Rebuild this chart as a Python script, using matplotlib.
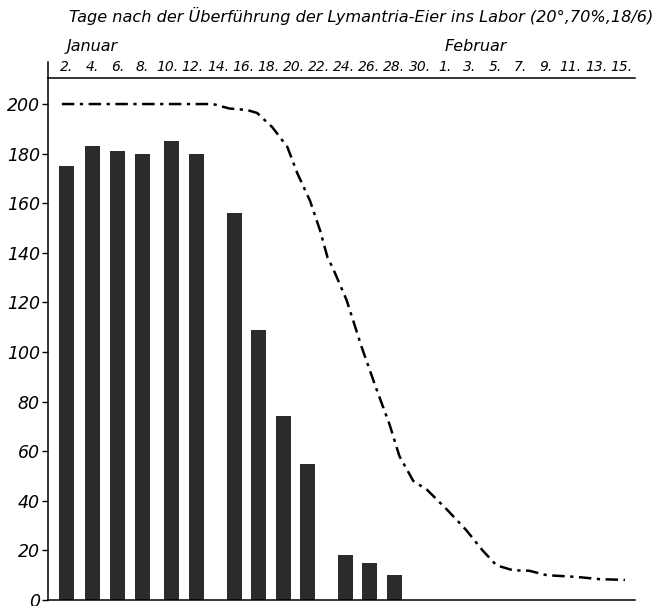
import matplotlib.pyplot as plt
from matplotlib.lines import Line2D

# x positions in days after Jan 0 (Feb 1 = day 32)
bar_days = [2, 4, 6, 8, 10.3, 12.3, 15.3, 17.2, 19.2, 21.1, 24.1, 26.0, 28.0]
bar_values = [175, 183, 181, 180, 185, 180, 156, 109, 74, 55, 18, 15, 10]

line_days = [1.6, 13.6, 14.9, 16.3, 17.1, 18.3, 19.5, 20.3, 21.3, 22.1, 22.7, 23.1,
             24.2, 25.4, 26.6, 27.6, 28.4, 29.5, 30.6, 32.2, 33.7, 35.0, 36.1,
             37.4, 38.7, 40.1, 42.5, 44.3, 46.3]
line_values = [200, 200, 198.2, 197.6, 196.4, 190.7, 182.7, 172, 161, 149, 138, 134,
               121, 102, 84.7, 71, 58, 48, 44.4, 36.3, 28.2, 20, 14,
               12, 11.8, 10, 9.3, 8.4, 8.1]

tick_days = [2, 4, 6, 8, 10, 12, 14, 16, 18, 20, 22, 24, 26, 28, 30,
             32, 34, 36, 38, 40, 42, 44, 46]
tick_labels = ["2.", "4.", "6.", "8.", "10.", "12.", "14.", "16.", "18.", "20.",
               "22.", "24.", "26.", "28.", "30.", "1.", "3.", "5.", "7.", "9.",
               "11.", "13.", "15."]
y_ticks = [0, 20, 40, 60, 80, 100, 120, 140, 160, 180, 200]

title = "Tage nach der Überführung der Lymantria-Eier ins Labor (20°,70%,18/6)"

fig = plt.figure(figsize=(6.55, 6.06), dpi=100)
ax = fig.add_axes([48 / 655, 6 / 606, 587 / 655, 522 / 606])

ax.bar(bar_days, bar_values, width=1.2, color="#2b2b2b", zorder=2)
ax.plot(line_days, line_values, color="black", lw=1.8,
        dashes=(5, 2.2, 1.3, 2.2), zorder=3)

ax.set_xlim(0.5, 47.1)
ax.set_ylim(0, 210.5)

# top axis with day labels
ax.xaxis.tick_top()
ax.set_xticks(tick_days)
ax.set_xticklabels(tick_labels, fontsize=10, style="italic")
ax.tick_params(axis="x", length=0, pad=3)

ax.set_yticks(y_ticks)
ax.set_yticklabels([str(v) for v in y_ticks], fontsize=12.5, style="italic")
ax.tick_params(axis="y", direction="out", length=4, width=1, pad=2)

ax.spines["right"].set_visible(False)
for s in ["left", "top", "bottom"]:
    ax.spines[s].set_linewidth(1.1)

# left spine continues above the top line
ax.add_line(Line2D([0, 0], [1, 1.03], transform=ax.transAxes,
                   color="black", lw=1.1, clip_on=False))

ax.text(2.0, 1.06, "Januar", transform=ax.get_xaxis_transform(),
        fontsize=11.5, style="italic", ha="left", va="center")
ax.text(32.0, 1.06, "Februar", transform=ax.get_xaxis_transform(),
        fontsize=11.5, style="italic", ha="left", va="center")

fig.text(0.997, 0.973, title, fontsize=11.6, style="italic", ha="right", va="center")

fig.savefig("out.png", dpi=100)
